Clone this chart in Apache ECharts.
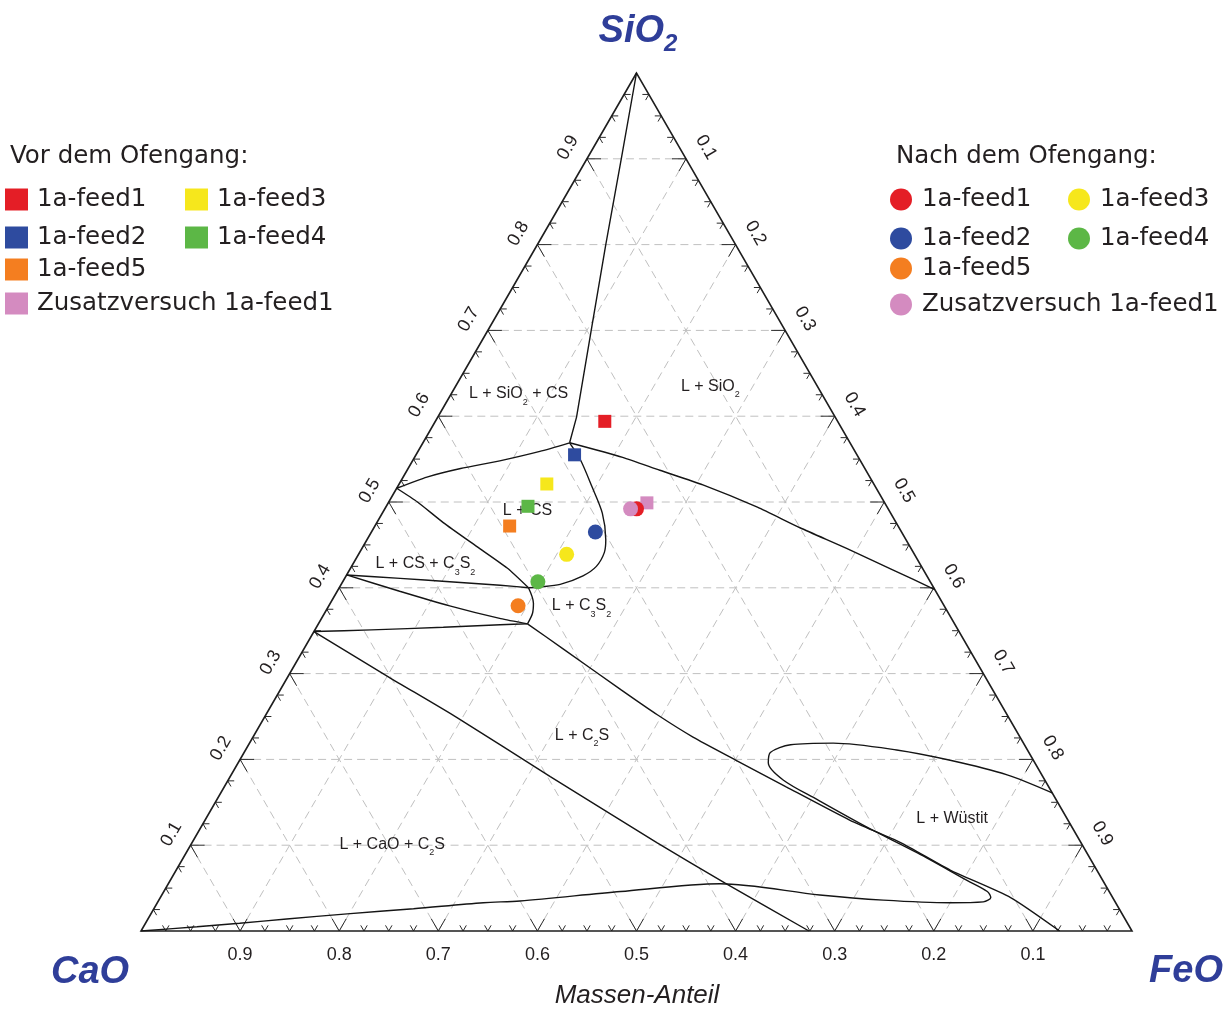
<!DOCTYPE html>
<html>
<head>
<meta charset="utf-8">
<script src="https://cdn.jsdelivr.net/npm/echarts@6/dist/echarts.min.js"></script>
<style>
  html, body { margin: 0; padding: 0; background: #ffffff; }
  #chart { width: 1231px; height: 1010px; }
</style>
</head>
<body>
<div id="chart"></div>
<script>
// Ternary diagram CaO – SiO2 – FeO (mass fractions).
// Every composition is written as [SiO2, FeO]; CaO = 1 - SiO2 - FeO.

// ---- axis ticks ----
const GRID_VALUES = [0.1, 0.2, 0.3, 0.4, 0.5, 0.6, 0.7, 0.8, 0.9];
const TICK_LABELS = ['0.1', '0.2', '0.3', '0.4', '0.5', '0.6', '0.7', '0.8', '0.9'];

// ---- samples ----
const SAMPLE_NAMES = ['1a-feed1', '1a-feed2', '1a-feed3', '1a-feed4', '1a-feed5', 'Zusatzversuch 1a-feed1'];
// before the furnace run (squares)
const vorSiO2 = [0.594, 0.555, 0.521, 0.495, 0.472, 0.499];
const vorFeO  = [0.171, 0.160, 0.149, 0.143, 0.136, 0.261];
// after the furnace run (circles)
const nachSiO2 = [0.492, 0.465, 0.439, 0.407, 0.379, 0.492];
const nachFeO  = [0.254, 0.226, 0.210, 0.197, 0.191, 0.248];

// ---- phase boundaries [SiO2, FeO] ----
const lineSiO2Apex = [[1, 0], [0.899, 0.035], [0.800, 0.069], [0.698, 0.105], [0.599, 0.140], [0.569, 0.148]];
const lineSiO2Liquid = [[0.569, 0.148], [0.552, 0.210], [0.537, 0.255], [0.520, 0.307], [0.494, 0.375],
  [0.470, 0.430], [0.446, 0.489], [0.421, 0.548], [0.398, 0.602]];
const lineSiO2CS = [[0.569, 0.148], [0.559, 0.123], [0.548, 0.088], [0.539, 0.053], [0.529, 0.024], [0.516, 0]];
const lineCSLiquid = [[0.569, 0.148], [0.549, 0.169], [0.518, 0.196], [0.487, 0.222], [0.456, 0.241],
  [0.441, 0.247], [0.425, 0.247], [0.414, 0.239], [0.404, 0.221], [0.401, 0.202], [0.400, 0.191]];
const lineC3S2Liquid = [[0.400, 0.191], [0.382, 0.205], [0.370, 0.210], [0.358, 0.211]];
const lineCSC3S2 = [[0.516, 0], [0.500, 0.029], [0.476, 0.067], [0.448, 0.115], [0.423, 0.158], [0.400, 0.191]];
const lineC3S2Upper = [[0.415, 0], [0.411, 0.056], [0.407, 0.108], [0.403, 0.161], [0.400, 0.191]];
const lineC3S2Lower = [[0.415, 0], [0.396, 0.063], [0.379, 0.122], [0.364, 0.181], [0.358, 0.211]];
const lineC2SUpper = [[0.349, 0], [0.351, 0.057], [0.354, 0.128], [0.357, 0.184], [0.358, 0.211]];
const lineC2SCaO = [[0.349, 0], [0.296, 0.102], [0.249, 0.194], [0.180, 0.323], [0.103, 0.469], [0.056, 0.561], [0, 0.674]];
const lineC2SLiquid = [[0.358, 0.211], [0.328, 0.263], [0.281, 0.344], [0.252, 0.395], [0.226, 0.444],
  [0.199, 0.501], [0.168, 0.567], [0.129, 0.651], [0.103, 0.715], [0.071, 0.781], [0.039, 0.858], [0, 0.927]];
const lineWuestit = [[0, 0], [0.005, 0.054], [0.009, 0.095], [0.014, 0.140], [0.020, 0.198], [0.026, 0.262],
  [0.033, 0.329], [0.035, 0.365], [0.046, 0.461], [0.055, 0.557], [0.042, 0.664], [0.036, 0.731],
  [0.033, 0.800], [0.034, 0.833], [0.039, 0.838], [0.046, 0.831], [0.059, 0.804], [0.091, 0.738],
  [0.121, 0.672], [0.153, 0.606], [0.176, 0.560], [0.196, 0.535], [0.208, 0.531], [0.217, 0.547],
  [0.219, 0.589], [0.211, 0.657], [0.199, 0.717], [0.182, 0.783], [0.161, 0.839]];

// ---- phase-field labels ----
const REGION_TEXTS = [
  '{n|L + SiO}{s|2}{n| + CS}', '{n|L + SiO}{s|2}', '{n|L + CS}', '{n|L + CS + C}{s|3}{n|S}{s|2}',
  '{n|L + C}{s|3}{n|S}{s|2}', '{n|L + C}{s|2}{n|S}', '{n|L + CaO + C}{s|2}{n|S}', '{n|L + Wüstit}'
];
const regionSiO2 = [0.626, 0.635, 0.490, 0.428, 0.379, 0.228, 0.101, 0.131];
const regionFeO  = [0.068, 0.257, 0.145, 0.073, 0.255, 0.331, 0.203, 0.753];

// ---- styles ----
const COLORS = ['#e41e26', '#2e4b9f', '#f6e71c', '#5cb746', '#f47e20', '#d48bc0'];
const TEXT = '#231f20';
const BLUE = '#2f3e99';
const SANS = 'Liberation Sans, Arial, sans-serif';
const LEG_FONT = 'DejaVu Sans';

const toXY = (s, f) => [f + s / 2, s];

function seg(a, b, style) {
  return { type: 'line', shape: { x1: a[0], y1: a[1], x2: b[0], y2: b[1] }, style: style };
}
function label(text, x, y, rot) {
  return {
    type: 'text', x: x, y: y, rotation: rot,
    style: { text: text, fill: TEXT, font: '18px ' + SANS, align: 'center', verticalAlign: 'middle' }
  };
}

function renderFrame(params, api) {
  const P = (s, f) => api.coord(toXY(s, f));
  const kids = [];
  const gridStyle = { stroke: '#c0c0c0', lineWidth: 1, lineDash: [8, 5] };
  GRID_VALUES.forEach(v => {
    kids.push(seg(P(v, 0), P(v, 1 - v), gridStyle));       // constant SiO2
    kids.push(seg(P(0, v), P(1 - v, v), gridStyle));       // constant FeO
    kids.push(seg(P(0, 1 - v), P(1 - v, 0), gridStyle));   // constant CaO
  });
  const tickStyle = { stroke: '#2a2a2a', lineWidth: 1 };
  const c = 0.5, s = Math.sqrt(3) / 2;
  for (let k = 1; k < 40; k++) {
    const t = k / 40;
    const len = k % 4 === 0 ? 14 : 6.5;
    const arms = (p, dirs) => dirs.forEach(d => kids.push(seg(p, [p[0] + d[0] * len, p[1] + d[1] * len], tickStyle)));
    arms(P(0, t), [[-c, -s], [c, -s]]);
    arms(P(t, 0), [[1, 0], [c, s]]);
    arms(P(1 - t, t), [[-1, 0], [-c, s]]);
  }
  kids.push({
    type: 'polygon', shape: { points: [P(1, 0), P(0, 0), P(0, 1)] },
    style: { fill: 'none', stroke: '#1e1e1e', lineWidth: 1.6 }
  });
  GRID_VALUES.forEach((v, i) => {
    const lab = TICK_LABELS[i];
    const b = P(0, 1 - v);
    kids.push(label(lab, b[0], b[1] + 24, 0));
    const l = P(v, 0);
    kids.push(label(lab, l[0] - s * 22, l[1] - c * 22, Math.PI / 3));
    const r = P(1 - v, v);
    kids.push(label(lab, r[0] + s * 23, r[1] - c * 23, -Math.PI / 3));
  });
  return { type: 'group', children: kids };
}

function renderRegion(params, api) {
  const p = api.coord([api.value(0), api.value(1)]);
  return {
    type: 'text', x: p[0], y: p[1],
    style: {
      text: REGION_TEXTS[params.dataIndex], align: 'center', verticalAlign: 'middle',
      rich: {
        n: { fontSize: 16, fontFamily: SANS, fill: TEXT, lineHeight: 26 },
        s: { fontSize: 9, fontFamily: SANS, fill: TEXT, lineHeight: 8, verticalAlign: 'bottom' }
      }
    }
  };
}

const boundaryLines = [
  [lineSiO2Apex, 0], [lineSiO2Liquid, 0.2], [lineSiO2CS, 0.2], [lineCSLiquid, 0.3], [lineC3S2Liquid, 0.3],
  [lineCSC3S2, 0.2], [lineC3S2Upper, 0.2], [lineC3S2Lower, 0.2], [lineC2SUpper, 0.2], [lineC2SCaO, 0.2],
  [lineC2SLiquid, 0.2], [lineWuestit, 0.3]
];

const series = [
  { type: 'custom', coordinateSystem: 'cartesian2d', data: [[0, 0]], renderItem: renderFrame, silent: true, z: 1, clip: false }
];
boundaryLines.forEach(([pts, sm]) => {
  series.push({
    type: 'line', data: pts.map(p => toXY(p[0], p[1])), showSymbol: false, symbol: 'none',
    smooth: sm, lineStyle: { color: '#151515', width: 1.4 }, silent: true, z: 2
  });
});
series.push({
  type: 'custom', coordinateSystem: 'cartesian2d', renderItem: renderRegion, silent: true, z: 3, clip: false,
  data: regionSiO2.map((sv, i) => toXY(sv, regionFeO[i]))
});
SAMPLE_NAMES.forEach((n, i) => {
  series.push({
    type: 'scatter', name: 'vor|' + n, symbol: 'rect', symbolSize: 13,
    data: [toXY(vorSiO2[i], vorFeO[i])], itemStyle: { color: COLORS[i], opacity: 1 }, z: 4
  });
});
SAMPLE_NAMES.forEach((n, i) => {
  series.push({
    type: 'scatter', name: 'nach|' + n, symbol: 'circle', symbolSize: 15,
    data: [toXY(nachSiO2[i], nachFeO[i])], itemStyle: { color: COLORS[i], opacity: 1 }, z: 5
  });
});

// legend placement: [left, centre y] for each sample name
const vorPlace = [[5, 198], [5, 236], [185, 198], [185, 236], [5, 268], [5, 302]];
const nachPlace = [[890, 198], [890, 237], [1068, 198], [1068, 237], [890, 267], [890, 303]];
const legends = [];
SAMPLE_NAMES.forEach((n, i) => {
  legends.push({
    data: [{ name: 'vor|' + n, icon: 'rect' }], left: vorPlace[i][0], top: vorPlace[i][1] - 11,
    itemWidth: 23, itemHeight: 22, padding: 0, selectedMode: false,
    formatter: nm => nm.split('|')[1],
    textStyle: { fontFamily: LEG_FONT, fontSize: 24.5, color: TEXT, padding: [0, 0, 0, 4] }
  });
  legends.push({
    data: [{ name: 'nach|' + n, icon: 'circle' }], left: nachPlace[i][0], top: nachPlace[i][1] - 11,
    itemWidth: 22, itemHeight: 22, padding: 0, selectedMode: false,
    formatter: nm => nm.split('|')[1],
    textStyle: { fontFamily: LEG_FONT, fontSize: 24.5, color: TEXT, padding: [0, 0, 0, 5] }
  });
});

const bigRich = {
  m: { fontSize: 38, fontWeight: 'bold', fontStyle: 'italic', fontFamily: SANS, fill: BLUE, lineHeight: 49 },
  d: { fontSize: 24, fontWeight: 'bold', fontStyle: 'italic', fontFamily: SANS, fill: BLUE, lineHeight: 24, verticalAlign: 'bottom' }
};

const chart = echarts.init(document.getElementById('chart'), null, { renderer: 'canvas' });
chart.setOption({
  animation: false,
  backgroundColor: '#ffffff',
  grid: { left: 141, top: 73, width: 991, height: 858 },
  xAxis: { type: 'value', min: 0, max: 1, show: false },
  yAxis: { type: 'value', min: 0, max: 1, show: false },
  legend: legends,
  graphic: [
    { type: 'text', x: 638, y: 32, style: { text: '{m|SiO}{d|2}', rich: bigRich, align: 'center', verticalAlign: 'middle' } },
    { type: 'text', x: 90, y: 973, style: { text: '{m|CaO}', rich: bigRich, align: 'center', verticalAlign: 'middle' } },
    { type: 'text', x: 1186, y: 972, style: { text: '{m|FeO}', rich: bigRich, align: 'center', verticalAlign: 'middle' } },
    { type: 'text', x: 637, y: 996, style: { text: 'Massen-Anteil', font: 'italic 26px ' + SANS, fill: TEXT, align: 'center', verticalAlign: 'middle' } },
    { type: 'text', x: 10, y: 157, style: { text: 'Vor dem Ofengang:', font: '24.5px ' + LEG_FONT, fill: TEXT, align: 'left', verticalAlign: 'middle' } },
    { type: 'text', x: 896, y: 157, style: { text: 'Nach dem Ofengang:', font: '24.5px ' + LEG_FONT, fill: TEXT, align: 'left', verticalAlign: 'middle' } }
  ],
  series: series
});
</script>
</body>
</html>
